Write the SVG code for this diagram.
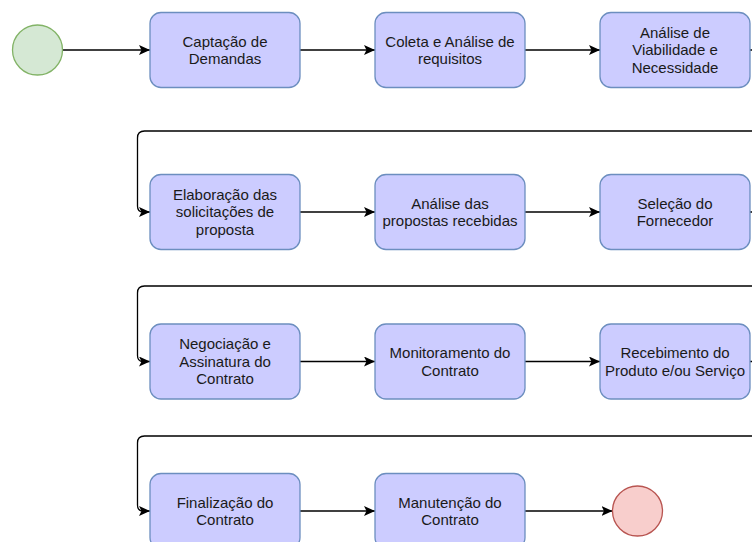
<svg xmlns="http://www.w3.org/2000/svg" width="752" height="542" viewBox="0 0 752 542">
<defs>
<style>
.box{fill:#CCCCFF;stroke:#6C8EBF;stroke-width:1.3}
.t{font-family:"Liberation Sans",Arial,Helvetica,sans-serif;font-size:15px;fill:#1a1a1a;text-anchor:middle}
.c{fill:none;stroke:#000;stroke-width:1.3;marker-end:url(#ah)}
.l{fill:none;stroke:#000;stroke-width:1.3}
</style>
<marker id="ah" markerUnits="userSpaceOnUse" markerWidth="12" markerHeight="11" refX="11" refY="5" orient="auto">
<path d="M0,0 L11,5 L0,10 L2.5,5 Z" fill="#000"/>
</marker>
</defs>
<rect width="752" height="542" fill="#fff"/>
<g id="connectors">
<path class="c" d="M62.5,50 H150"/>
<path class="c" d="M300,50 H375"/>
<path class="c" d="M525,50 H600"/>
<path class="c" d="M750,50 H765 V131 H144.5 Q137.5,131 137.5,138 V206 Q137.5,212 143,212 H150"/>
<path class="c" d="M300,212 H375"/>
<path class="c" d="M525,212 H600"/>
<path class="c" d="M750,212 H765 V286 H144.5 Q137.5,286 137.5,293 V355.5 Q137.5,361.5 143,361.5 H150"/>
<path class="c" d="M300,361.5 H375"/>
<path class="c" d="M525,361.5 H600"/>
<path class="c" d="M750,361.5 H765 V436 H144.5 Q137.5,436 137.5,443 V505 Q137.5,511 143,511 H150"/>
<path class="c" d="M300,511 H375"/>
<path class="c" d="M525,511 H612.5"/>
</g>
<g id="start"><circle cx="37.5" cy="50" r="25" fill="#D5E8D4" stroke="#82B366" stroke-width="1.3"/></g>
<g id="n1"><rect class="box" x="150" y="12.5" width="150" height="75" rx="11"/><text class="t" x="225" y="46.8">Captação de</text><text class="t" x="225" y="64.3">Demandas</text></g>
<g id="n2"><rect class="box" x="375" y="12.5" width="150" height="75" rx="11"/><text class="t" x="450" y="46.8">Coleta e Análise de</text><text class="t" x="450" y="64.3">requisitos</text></g>
<g id="n3"><rect class="box" x="600" y="12.5" width="150" height="75" rx="11"/><text class="t" x="675" y="37.8">Análise de</text><text class="t" x="675" y="55.3">Viabilidade e</text><text class="t" x="675" y="72.8">Necessidade</text></g>
<g id="n4"><rect class="box" x="150" y="174.5" width="150" height="75" rx="11"/><text class="t" x="225" y="199.8">Elaboração das</text><text class="t" x="225" y="217.3">solicitações de</text><text class="t" x="225" y="234.8">proposta</text></g>
<g id="n5"><rect class="box" x="375" y="174.5" width="150" height="75" rx="11"/><text class="t" x="450" y="208.8">Análise das</text><text class="t" x="450" y="226.3">propostas recebidas</text></g>
<g id="n6"><rect class="box" x="600" y="174.5" width="150" height="75" rx="11"/><text class="t" x="675" y="208.8">Seleção do</text><text class="t" x="675" y="226.3">Fornecedor</text></g>
<g id="n7"><rect class="box" x="150" y="324" width="150" height="75" rx="11"/><text class="t" x="225" y="349.3">Negociação e</text><text class="t" x="225" y="366.8">Assinatura do</text><text class="t" x="225" y="384.3">Contrato</text></g>
<g id="n8"><rect class="box" x="375" y="324" width="150" height="75" rx="11"/><text class="t" x="450" y="358.3">Monitoramento do</text><text class="t" x="450" y="375.8">Contrato</text></g>
<g id="n9"><rect class="box" x="600" y="324" width="150" height="75" rx="11"/><text class="t" x="675" y="358.3">Recebimento do</text><text class="t" x="675" y="375.8">Produto e/ou Serviço</text></g>
<g id="n10"><rect class="box" x="150" y="473.5" width="150" height="75" rx="11"/><text class="t" x="225" y="507.8">Finalização do</text><text class="t" x="225" y="525.3">Contrato</text></g>
<g id="n11"><rect class="box" x="375" y="473.5" width="150" height="75" rx="11"/><text class="t" x="450" y="507.8">Manutenção do</text><text class="t" x="450" y="525.3">Contrato</text></g>
<g id="end"><circle cx="637.5" cy="511" r="25" fill="#F8CECC" stroke="#B85450" stroke-width="1.3"/></g>
</svg>
